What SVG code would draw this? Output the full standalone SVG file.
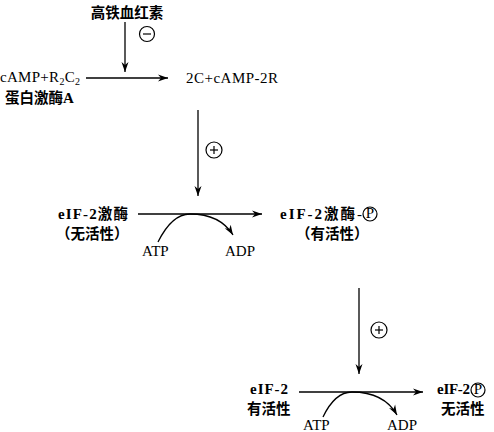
<svg xmlns="http://www.w3.org/2000/svg" width="494" height="432" viewBox="0 0 494 432">
<defs>
<marker id="ah" viewBox="0 0 10 10" refX="10" refY="5" markerWidth="10" markerHeight="10" markerUnits="userSpaceOnUse" orient="auto">
<path d="M0,1.5 L10,5 L0,8.5 L3,5 Z" fill="#000"/>
</marker>
</defs>
<style>
text{font-family:"Liberation Serif","Noto Sans CJK SC",serif;font-size:15px;fill:#000}
.cjk{font-family:"Noto Sans CJK SC","Liberation Serif",sans-serif;font-size:14.5px;font-weight:bold}
.b{font-weight:bold}
.ln{stroke:#000;stroke-width:1.3;fill:none}
.c{stroke:#000;stroke-width:1.2;fill:#fff}
.sym{stroke:#000;stroke-width:1.2}
</style>
<g id="heme"><text class="cjk" x="127" y="18" text-anchor="middle">高铁血红素</text></g>
<g id="camp"><text x="0" y="82" textLength="80" lengthAdjust="spacing">cAMP+R<tspan font-size="10" dy="3">2</tspan><tspan dy="-3">C</tspan><tspan font-size="10" dy="3">2</tspan></text>
<text class="cjk" x="5" y="103">蛋白激酶<tspan font-family="Liberation Serif" font-size="15">A</tspan></text></g>
<g id="c2r"><text x="186" y="83" textLength="92" lengthAdjust="spacing">2C+cAMP-2R</text></g>
<g id="eifk"><text x="58" y="219" textLength="70" lengthAdjust="spacing"><tspan class="b">eIF-2</tspan><tspan class="cjk">激酶</tspan></text>
<text class="cjk" x="56" y="239">（无活性）</text></g>
<g id="eifkp"><text x="280" y="219" textLength="82" lengthAdjust="spacing"><tspan class="b">eIF-2</tspan><tspan class="cjk">激酶</tspan>-</text>
<circle class="c" cx="370" cy="214" r="7"/><text x="370" y="218" text-anchor="middle" font-size="11">P</text>
<text class="cjk" x="296" y="239">（有活性）</text></g>
<g id="eif2"><text x="250" y="394" class="b" textLength="38" lengthAdjust="spacing">eIF-2</text>
<text class="cjk" x="247" y="414">有活性</text></g>
<g id="eif2p"><text x="437" y="394" class="b" textLength="33" lengthAdjust="spacing">eIF-2</text>
<circle class="c" cx="478" cy="390" r="7"/><text x="478" y="394" text-anchor="middle" font-size="11">P</text>
<text class="cjk" x="441" y="414">无活性</text></g>
<g id="atp1"><text x="142" y="256">ATP</text></g>
<g id="adp1"><text x="225" y="256">ADP</text></g>
<g id="atp2"><text x="303" y="430">ATP</text></g>
<g id="adp2"><text x="387" y="430">ADP</text></g>
<g id="connectors">
<line class="ln" x1="125" y1="22" x2="125" y2="72" marker-end="url(#ah)"/>
<line class="ln" x1="86" y1="78" x2="168" y2="78" marker-end="url(#ah)"/>
<line class="ln" x1="198" y1="110" x2="198" y2="196" marker-end="url(#ah)"/>
<line class="ln" x1="138" y1="214" x2="262" y2="214" marker-end="url(#ah)"/>
<path class="ln" d="M158,242 Q172,214 190,214 Q220,214 233,235" marker-end="url(#ah)"/>
<line class="ln" x1="359" y1="288" x2="359" y2="374" marker-end="url(#ah)"/>
<line class="ln" x1="299" y1="392" x2="423" y2="392" marker-end="url(#ah)"/>
<path class="ln" d="M323,417 Q335,392 352,392 Q384,392 397,415" marker-end="url(#ah)"/>
</g>
<g id="minus"><circle class="c" cx="147" cy="34" r="7.5"/><line class="sym" x1="143" y1="34" x2="151" y2="34"/></g>
<g id="plus1"><circle class="c" cx="214" cy="150" r="8"/><line class="sym" x1="210" y1="150" x2="218" y2="150"/><line class="sym" x1="214" y1="146" x2="214" y2="154"/></g>
<g id="plus2"><circle class="c" cx="379" cy="330" r="8"/><line class="sym" x1="375" y1="330" x2="383" y2="330"/><line class="sym" x1="379" y1="326" x2="379" y2="334"/></g>
</svg>
